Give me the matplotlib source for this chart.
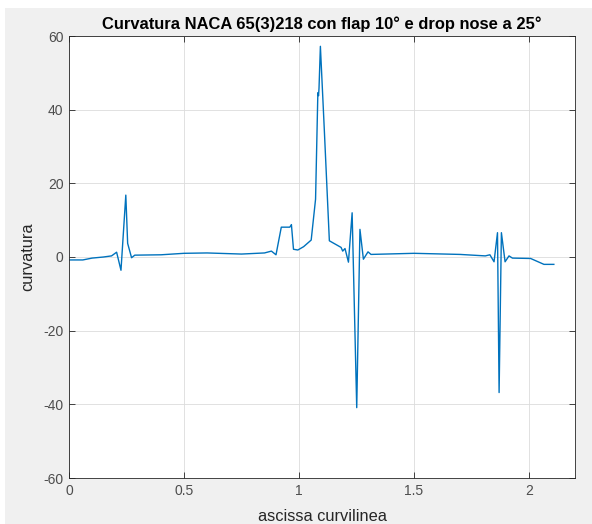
import numpy as np
import matplotlib.pyplot as plt
from matplotlib.patches import Rectangle

# curvatura lungo l'ascissa curvilinea del profilo
s = [0.0, 0.06, 0.1, 0.15, 0.185, 0.207, 0.226, 0.247, 0.255, 0.272,
     0.286, 0.4, 0.5, 0.6, 0.75, 0.85, 0.88, 0.90, 0.923, 0.96,
     0.967, 0.976, 0.995, 1.02, 1.053, 1.072, 1.082, 1.085, 1.087, 1.093,
     1.11, 1.132, 1.183, 1.19, 1.20, 1.215, 1.231, 1.251, 1.265, 1.28,
     1.30, 1.313, 1.5, 1.7, 1.81, 1.83, 1.848, 1.863, 1.87, 1.88,
     1.896, 1.913, 1.928, 2.007, 2.065, 2.108]
k = [-0.8, -0.8, -0.3, 0.0, 0.3, 1.3, -3.6, 16.8, 3.7, -0.2,
     0.5, 0.6, 1.0, 1.1, 0.8, 1.1, 1.6, 0.6, 8.1, 8.1,
     8.8, 2.1, 1.9, 2.8, 4.6, 15.7, 44.6, 43.8, 45.8, 57.2,
     34.6, 4.4, 2.6, 1.6, 2.3, -1.4, 12.0, -40.9, 7.5, -0.6,
     1.4, 0.7, 1.0, 0.7, 0.3, 0.6, -1.3, 6.6, -36.8, 6.6,
     -1.3, 0.3, -0.3, -0.4, -2.0, -2.0]

xticks = [0, 0.5, 1, 1.5, 2]
yticks = [-60, -40, -20, 0, 20, 40, 60]

plt.rcParams['font.family'] = ['Liberation Sans', 'DejaVu Sans']
plt.rcParams['axes.unicode_minus'] = False

fig = plt.figure(figsize=(5.92, 5.24), dpi=100)
fig.patch.set_facecolor('white')
# fondo grigio della finestra
fig.patches.append(Rectangle((5/592, 0), 1, 1 - 8/524, transform=fig.transFigure,
                             facecolor='#f0f0f0', edgecolor='none', zorder=-10))

ax = fig.add_axes([69/592, 1 - 478/524, (575 - 69)/592, (478 - 36)/524])
ax.set_facecolor('white')
ax.plot(s, k, color='#0072BD', linewidth=1.0)

ax.set_xlim(0, 2.2)
ax.set_ylim(-60, 60)
ax.set_xticks(xticks)
ax.set_xticklabels(['0', '0.5', '1', '1.5', '2'])
ax.set_yticks(yticks)
ax.grid(True, color='#dcdcdc', linewidth=0.6)
ax.set_axisbelow(True)
ax.tick_params(direction='in', top=True, right=True, length=4, width=0.6,
               colors='#262626', labelsize=10, labelcolor='#4d4d4d', pad=4)
for sp in ax.spines.values():
    sp.set_color('#262626')
    sp.set_linewidth(0.6)

ax.set_title('Curvatura NACA 65(3)218 con flap 10° e drop nose a 25°',
             fontsize=11.9, fontweight='bold', color='black', pad=5)
ax.set_xlabel('ascissa curvilinea', fontsize=11.8, color='#262626', labelpad=8)
ax.set_ylabel('curvatura', fontsize=11.8, color='#262626', labelpad=6)

plt.savefig('out.png', dpi=100, facecolor=fig.get_facecolor())
